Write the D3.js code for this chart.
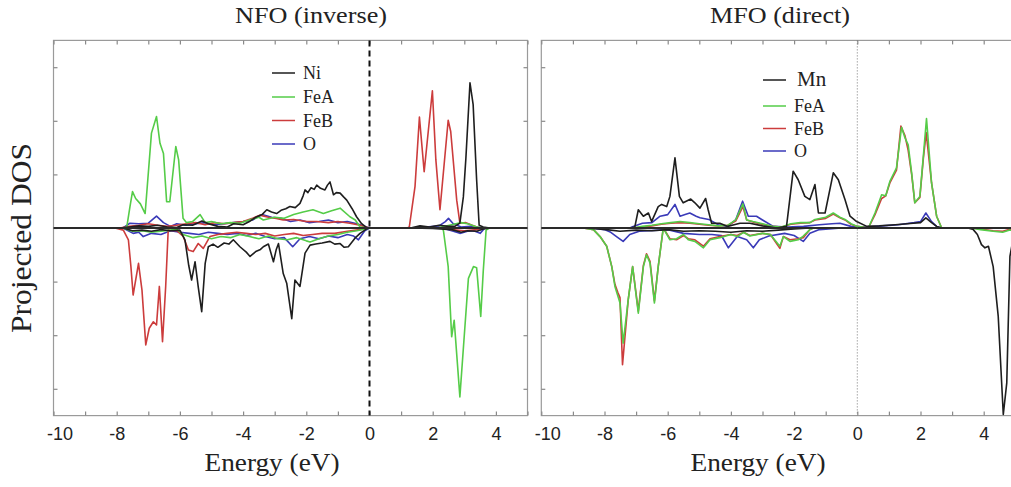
<!DOCTYPE html>
<html>
<head>
<meta charset="utf-8">
<script src="https://cdn.jsdelivr.net/npm/d3@7"></script>
<style>
  body { margin: 0; background: #fff; }
  svg { display: block; }
</style>
</head>
<body>
<div class="displayArea"></div>
<script>
// ---- data (energy in eV, projected DOS in tick units) ----
var panelTitles = ["NFO (inverse)", "MFO (direct)"]
var nfoLegend = ["Ni", "FeA", "FeB", "O"]
var mfoLegend = ["Mn", "FeA", "FeB", "O"]
var xTickValues = [-10, -9, -8, -7, -6, -5, -4, -3, -2, -1, 0, 1, 2, 3, 4, 5]
var xTickLabels = [-10, -8, -6, -4, -2, 0, 2, 4]
var yTickValues = [-3, -2, -1, 0, 1, 2, 3]

// NFO (inverse)
var nfoNiUp = [[-7.9,0],[-7.6,0.02],[-7.3,0.04],[-7.0,0.03],[-6.7,0.05],[-6.4,0.02],[-6.1,0.01],[-5.9,0.06],[-5.6,0.05],[-5.3,0.13],[-5.1,0.08],[-4.8,0.03],[-4.5,0.02],[-4.3,0.08],[-4.0,0.06],[-3.8,0.12],[-3.6,0.2],[-3.4,0.25],[-3.25,0.34],[-3.1,0.3],[-2.94,0.27],[-2.8,0.33],[-2.65,0.36],[-2.52,0.4],[-2.35,0.38],[-2.2,0.46],[-2.1,0.6],[-2.04,0.71],[-1.95,0.66],[-1.85,0.75],[-1.75,0.72],[-1.67,0.8],[-1.55,0.74],[-1.41,0.71],[-1.33,0.8],[-1.25,0.86],[-1.14,0.62],[-1.05,0.66],[-0.93,0.65],[-0.82,0.58],[-0.72,0.52],[-0.55,0.36],[-0.41,0.21],[-0.25,0.08],[-0.1,0.01],[0,0],[1.3,0],[1.6,0.04],[1.9,0.02],[2.2,0.05],[2.5,0.03],[2.7,0.03],[2.86,0.09],[2.97,0.58],[3.05,1.3],[3.18,2.71],[3.28,2.3],[3.39,0.9],[3.47,0.05],[3.6,0.02],[3.8,0]]
var nfoNiDn = [[-7.8,0],[-7.5,-0.05],[-7.2,-0.04],[-6.9,-0.06],[-6.6,-0.03],[-6.3,-0.05],[-6.0,-0.04],[-5.84,-0.22],[-5.72,-0.7],[-5.63,-0.97],[-5.52,-0.63],[-5.42,-1.1],[-5.31,-1.56],[-5.2,-0.66],[-5.1,-0.35],[-4.95,-0.3],[-4.8,-0.36],[-4.6,-0.28],[-4.45,-0.3],[-4.31,-0.22],[-4.1,-0.35],[-3.9,-0.45],[-3.78,-0.53],[-3.6,-0.44],[-3.45,-0.4],[-3.36,-0.35],[-3.2,-0.3],[-3.04,-0.63],[-2.95,-0.4],[-2.88,-0.29],[-2.73,-0.85],[-2.62,-1.03],[-2.46,-1.69],[-2.36,-0.97],[-2.2,-1.09],[-2.04,-0.47],[-1.88,-0.32],[-1.7,-0.3],[-1.5,-0.28],[-1.25,-0.25],[-1.1,-0.3],[-0.93,-0.29],[-0.8,-0.36],[-0.67,-0.35],[-0.46,-0.19],[-0.3,-0.1],[-0.1,-0.02],[0,0],[1.3,0],[2.0,-0.01],[2.6,-0.03],[2.9,-0.08],[3.1,-0.05],[3.4,-0.06],[3.6,-0.02],[3.8,0]]
var nfoFeAUp = [[-7.8,0],[-7.68,0.02],[-7.58,0.4],[-7.5,0.68],[-7.4,0.55],[-7.25,0.45],[-7.1,0.27],[-6.9,1.77],[-6.74,2.08],[-6.63,1.58],[-6.52,1.39],[-6.42,0.49],[-6.32,0.49],[-6.13,1.52],[-6.04,1.27],[-5.9,0.18],[-5.79,0.1],[-5.6,0.12],[-5.36,0.25],[-5.2,0.1],[-5.0,0.12],[-4.7,0.08],[-4.4,0.1],[-4.1,0.09],[-3.8,0.15],[-3.5,0.2],[-3.36,0.15],[-3.0,0.2],[-2.7,0.18],[-2.4,0.25],[-2.1,0.3],[-1.79,0.34],[-1.46,0.27],[-1.2,0.32],[-0.93,0.37],[-0.62,0.21],[-0.45,0.15],[-0.3,0.02],[0,0],[1.3,0],[2.2,0.01],[2.6,0.06],[2.9,0.1],[3.1,0.08],[3.4,0.02],[3.6,0]]
var nfoFeADn = [[-7.8,0],[-7.5,-0.06],[-7.2,-0.05],[-6.9,-0.08],[-6.6,-0.06],[-6.3,-0.04],[-6.1,-0.02],[-5.9,-0.12],[-5.58,-0.18],[-5.3,-0.15],[-5.0,-0.2],[-4.7,-0.16],[-4.4,-0.18],[-4.1,-0.12],[-3.8,-0.16],[-3.5,-0.2],[-3.2,-0.15],[-2.9,-0.2],[-2.6,-0.22],[-2.3,-0.18],[-2.0,-0.24],[-1.88,-0.26],[-1.6,-0.2],[-1.3,-0.15],[-1.0,-0.12],[-0.7,-0.08],[-0.4,-0.05],[0,0],[2.3,0],[2.34,-0.05],[2.49,-0.72],[2.6,-2.03],[2.68,-1.72],[2.86,-3.15],[3.0,-2.0],[3.13,-0.94],[3.29,-0.72],[3.39,-0.74],[3.52,-1.65],[3.6,-0.8],[3.69,-0.04],[3.8,0]]
var nfoFeBUp = [[-7.9,0],[-7.6,0.03],[-7.3,0.05],[-7.0,0.08],[-6.7,0.05],[-6.4,0.03],[-6.1,0.05],[-5.8,0.08],[-5.5,0.1],[-5.2,0.06],[-4.9,0.1],[-4.6,0.08],[-4.3,0.1],[-4.0,0.12],[-3.7,0.18],[-3.47,0.24],[-3.2,0.2],[-2.95,0.18],[-2.73,0.15],[-2.4,0.16],[-2.0,0.12],[-1.67,0.12],[-1.3,0.1],[-1.0,0.12],[-0.62,0.09],[-0.3,0.05],[0,0],[1.2,0],[1.26,0.02],[1.44,0.77],[1.58,2.07],[1.73,1.05],[1.99,2.56],[2.1,1.27],[2.23,0.34],[2.49,2.01],[2.57,1.8],[2.76,0.52],[2.86,0.09],[3.05,0.1],[3.25,0.05],[3.47,0]]
var nfoFeBDn = [[-8.05,0],[-7.79,-0.04],[-7.63,-0.22],[-7.55,-0.72],[-7.48,-1.25],[-7.31,-0.66],[-7.2,-1.16],[-7.08,-2.18],[-6.97,-1.87],[-6.84,-1.75],[-6.74,-1.81],[-6.65,-1.09],[-6.55,-2.12],[-6.45,-1.09],[-6.37,-0.04],[-6.1,-0.05],[-5.9,-0.15],[-5.73,-0.41],[-5.58,-0.44],[-5.42,-0.29],[-5.26,-0.38],[-5.05,-0.16],[-4.8,-0.12],[-4.5,-0.1],[-4.2,-0.08],[-3.9,-0.1],[-3.6,-0.12],[-3.3,-0.1],[-3.0,-0.15],[-2.7,-0.12],[-2.4,-0.1],[-2.1,-0.14],[-1.8,-0.12],[-1.5,-0.1],[-1.1,-0.1],[-0.7,-0.06],[-0.3,-0.03],[0,0],[2.3,0],[2.6,-0.03],[3.0,-0.05],[3.4,-0.03],[3.6,0]]
var nfoOUp = [[-7.8,0],[-7.58,0.09],[-7.3,0.08],[-7.0,0.09],[-6.74,0.22],[-6.52,0.1],[-6.3,0.03],[-6.1,0.08],[-5.8,0.05],[-5.5,0.08],[-5.2,0.1],[-4.9,0.06],[-4.6,0.08],[-4.3,0.1],[-4.0,0.12],[-3.7,0.15],[-3.4,0.25],[-3.1,0.2],[-2.8,0.18],[-2.5,0.12],[-2.2,0.15],[-1.9,0.1],[-1.6,0.12],[-1.3,0.15],[-1.0,0.1],[-0.7,0.12],[-0.4,0.08],[0,0],[1.3,0],[1.8,0.02],[2.2,0.04],[2.4,0.12],[2.5,0.18],[2.65,0.08],[2.9,0.02],[3.2,0.03],[3.6,0]]
var nfoODn = [[-7.8,0],[-7.48,-0.1],[-7.3,-0.08],[-7.16,-0.16],[-6.9,-0.1],[-6.6,-0.12],[-6.3,-0.05],[-6.0,-0.08],[-5.7,-0.1],[-5.4,-0.12],[-5.1,-0.08],[-4.8,-0.1],[-4.5,-0.12],[-4.2,-0.1],[-3.9,-0.14],[-3.6,-0.1],[-3.3,-0.16],[-3.0,-0.2],[-2.7,-0.18],[-2.43,-0.35],[-2.2,-0.2],[-1.9,-0.16],[-1.6,-0.2],[-1.3,-0.15],[-1.0,-0.18],[-0.7,-0.12],[-0.5,-0.15],[-0.35,-0.22],[-0.15,-0.05],[0,0],[2.3,0],[2.6,-0.05],[2.86,-0.1],[3.1,-0.06],[3.3,-0.05],[3.5,-0.1],[3.65,0]]

// MFO (direct)
var mfoMnUp = [[-7.2,0],[-7.04,0.02],[-6.93,0.34],[-6.77,0.22],[-6.61,0.28],[-6.51,0.12],[-6.3,0.4],[-6.19,0.44],[-6.03,0.4],[-5.93,0.59],[-5.77,1.31],[-5.63,0.59],[-5.51,0.47],[-5.27,0.54],[-5.14,0.47],[-4.98,0.37],[-4.8,0.55],[-4.72,0.34],[-4.61,0.09],[-4.35,0.09],[-4.1,0.03],[-3.9,0.06],[-3.71,0.09],[-3.4,0.09],[-3.0,0.04],[-2.55,0],[-2.24,0.03],[-2.03,1.06],[-1.87,0.9],[-1.66,0.59],[-1.5,0.53],[-1.34,0.81],[-1.23,0.28],[-1.02,0.28],[-0.76,1.03],[-0.6,0.9],[-0.39,0.53],[-0.23,0.22],[-0.02,0.12],[0.3,0.03],[0.7,0.04],[1.2,0.06],[1.77,0.09],[2.0,0.1],[2.17,0.19],[2.35,0.1],[2.51,0.03],[2.67,0]]
var mfoMnDn = [[-8.6,0],[-8.2,-0.02],[-7.93,-0.03],[-7.51,-0.06],[-7.0,-0.04],[-6.5,-0.05],[-6.0,-0.03],[-5.5,-0.06],[-5.0,-0.05],[-4.5,-0.06],[-4.0,-0.08],[-3.5,-0.05],[-3.0,-0.06],[-2.5,-0.04],[-2.0,-0.02],[-1.5,0],[3.5,0],[3.67,-0.03],[3.8,-0.12],[3.93,-0.31],[4.04,-0.37],[4.15,-0.34],[4.3,-0.72],[4.46,-1.65],[4.62,-3.48],[4.73,-2.89],[4.83,-0.53],[4.9,-0.3],[5.0,-0.2]]
var mfoFeAUp = [[-7.1,0],[-6.8,0.03],[-6.5,0.05],[-6.2,0.08],[-5.9,0.1],[-5.61,0.12],[-5.3,0.1],[-5.0,0.08],[-4.7,0.06],[-4.4,0.04],[-4.1,0.05],[-3.85,0.15],[-3.62,0.45],[-3.5,0.15],[-3.3,0.12],[-3.0,0.08],[-2.7,0.03],[-2.4,0.02],[-2.1,0.08],[-1.8,0.1],[-1.5,0.1],[-1.34,0.16],[-1.0,0.2],[-0.76,0.28],[-0.55,0.2],[-0.39,0.16],[-0.2,0.08],[0,0.03],[0.35,0],[0.56,0.28],[0.77,0.62],[0.9,0.6],[1.03,0.87],[1.24,1.12],[1.4,1.88],[1.51,1.68],[1.61,1.55],[1.72,1.03],[1.82,0.47],[1.98,0.59],[2.09,1.34],[2.19,2.04],[2.35,0.84],[2.51,0.22],[2.67,0]]
var mfoFeADn = [[-8.8,0],[-8.67,0],[-8.35,-0.03],[-8.14,-0.16],[-7.93,-0.34],[-7.77,-0.72],[-7.67,-1.09],[-7.56,-1.3],[-7.51,-1.4],[-7.41,-2.15],[-7.25,-1.34],[-7.11,-0.72],[-6.93,-1.59],[-6.77,-0.72],[-6.67,-0.5],[-6.56,-0.65],[-6.42,-1.4],[-6.3,-0.72],[-6.14,0],[-5.93,-0.22],[-5.72,-0.2],[-5.5,-0.12],[-5.35,-0.22],[-5.14,-0.25],[-4.87,-0.37],[-4.66,-0.22],[-4.35,-0.18],[-4.0,-0.12],[-3.8,-0.16],[-3.6,-0.08],[-3.4,-0.15],[-3.0,-0.1],[-2.75,-0.12],[-2.45,-0.34],[-2.34,-0.16],[-2.13,-0.25],[-1.87,-0.22],[-1.71,-0.15],[-1.5,-0.03],[-1.39,0],[3.6,0],[3.9,-0.03],[4.3,-0.06],[4.6,-0.08],[4.8,-0.04],[5.0,-0.05]]
var mfoFeBUp = [[-7.1,0],[-6.8,0.02],[-6.5,0.04],[-6.2,0.07],[-5.9,0.09],[-5.61,0.1],[-5.3,0.09],[-5.0,0.07],[-4.7,0.05],[-4.4,0.04],[-4.1,0.05],[-3.85,0.13],[-3.62,0.4],[-3.5,0.15],[-3.3,0.11],[-3.0,0.07],[-2.7,0.03],[-2.4,0.02],[-2.1,0.07],[-1.8,0.09],[-1.5,0.1],[-1.34,0.15],[-1.0,0.18],[-0.76,0.26],[-0.55,0.19],[-0.39,0.15],[-0.2,0.07],[0,0.03],[0.35,0],[0.56,0.25],[0.77,0.55],[0.9,0.6],[1.03,0.84],[1.24,1.08],[1.38,1.9],[1.51,1.72],[1.61,1.45],[1.72,1.0],[1.82,0.47],[1.98,0.57],[2.09,1.3],[2.18,1.78],[2.35,0.84],[2.51,0.22],[2.67,0]]
var mfoFeBDn = [[-8.8,0],[-8.67,0],[-8.35,-0.03],[-8.14,-0.16],[-7.93,-0.34],[-7.77,-0.72],[-7.67,-1.05],[-7.58,-1.2],[-7.51,-1.3],[-7.43,-2.55],[-7.25,-1.34],[-7.11,-0.72],[-6.93,-1.55],[-6.77,-0.7],[-6.67,-0.48],[-6.56,-0.62],[-6.42,-1.36],[-6.3,-0.72],[-6.14,0],[-5.93,-0.2],[-5.72,-0.22],[-5.5,-0.14],[-5.35,-0.2],[-5.14,-0.22],[-4.87,-0.34],[-4.66,-0.2],[-4.35,-0.16],[-4.0,-0.12],[-3.8,-0.14],[-3.6,-0.08],[-3.4,-0.14],[-3.0,-0.1],[-2.75,-0.12],[-2.45,-0.38],[-2.34,-0.16],[-2.13,-0.22],[-1.87,-0.2],[-1.71,-0.18],[-1.5,-0.03],[-1.39,0],[3.6,0],[3.9,-0.02],[4.3,-0.05],[4.6,-0.06],[4.8,-0.03],[5.0,-0.04]]
var mfoOUp = [[-7.2,0],[-7.09,0.03],[-6.8,0.09],[-6.5,0.1],[-6.24,0.22],[-6.0,0.25],[-5.77,0.44],[-5.61,0.22],[-5.45,0.25],[-5.3,0.28],[-5.1,0.22],[-4.98,0.19],[-4.7,0.16],[-4.4,0.06],[-4.1,0.03],[-3.85,0.15],[-3.63,0.5],[-3.45,0.22],[-3.19,0.22],[-3.0,0.15],[-2.66,0.03],[-2.2,0.02],[-1.7,0.03],[-1.2,0.06],[-0.8,0.08],[-0.55,0.09],[-0.2,0.03],[0.3,0.02],[0.8,0.04],[1.3,0.06],[1.8,0.1],[2.0,0.12],[2.17,0.28],[2.35,0.12],[2.51,0.03],[2.67,0]]
var mfoODn = [[-8.4,0],[-8.0,-0.03],[-7.8,-0.08],[-7.62,-0.16],[-7.41,-0.25],[-7.2,-0.12],[-6.9,-0.06],[-6.0,-0.03],[-5.5,-0.1],[-5.0,-0.12],[-4.6,-0.12],[-4.3,-0.14],[-4.08,-0.37],[-3.8,-0.16],[-3.5,-0.22],[-3.29,-0.37],[-3.1,-0.22],[-2.8,-0.15],[-2.3,-0.1],[-2.0,-0.14],[-1.71,-0.25],[-1.5,-0.1],[-1.2,-0.03],[-0.5,0]]

// ---- layout ----
var W = 1011, H = 487
var colors = { black: "#1e1e1e", green: "#55cc48", red: "#cc3c3c", blue: "#3a3ab8" }
var serif = "'Liberation Serif', 'Times New Roman', serif"
var sans = "'Liberation Sans', Arial, sans-serif"

var panels = [
  { left: 53.5, title: panelTitles[0], titleX: 311, titleW: 152, labelX: 272, legend: nfoLegend,
    legX: 272, legY: [73, 97, 120.5, 144], legSize: [18, 18, 18, 18], zeroLine: "dashed",
    // drawn order: O, FeB, FeA, Ni
    curves: [[nfoODn, "blue"], [nfoOUp, "blue"], [nfoFeBDn, "red"], [nfoFeBUp, "red"],
             [nfoFeADn, "green"], [nfoFeAUp, "green"], [nfoNiDn, "black"], [nfoNiUp, "black"]] },
  { left: 541.3, title: panelTitles[1], titleX: 780, titleW: 140, labelX: 758, legend: mfoLegend,
    legX: 763, legY: [80, 106, 128.5, 151], legSize: [21, 18, 18, 18], zeroLine: "dotted",
    curves: [[mfoODn, "blue"], [mfoOUp, "blue"], [mfoFeBDn, "red"], [mfoFeBUp, "red"],
             [mfoFeADn, "green"], [mfoFeAUp, "green"], [mfoMnDn, "black"], [mfoMnUp, "black"]] }
]
var legendColors = ["black", "green", "red", "blue"]
var plotW = 474, plotTop = 40.4, plotBottom = 415.6

var svg = d3.select(".displayArea").append("svg")
    .attr("width", W)
    .attr("height", H)

var yScale = d3.scaleLinear().domain([-3.5, 3.5]).range([plotBottom, plotTop])

svg.append("text") // y axis title
    .attr("transform", "translate(31," + 238 + ") rotate(-90)")
    .attr("text-anchor", "middle")
    .attr("font-family", serif)
    .attr("font-size", 29)
    .attr("textLength", 190)
    .attr("lengthAdjust", "spacingAndGlyphs")
    .attr("fill", "#222")
    .text("Projected DOS")

panels.forEach(function(p){
    var xScale = d3.scaleLinear().domain([-10, 5]).range([p.left, p.left + plotW])
    var g = svg.append("g")

    // frame
    g.append("rect")
        .attr("x", p.left).attr("y", plotTop)
        .attr("width", plotW).attr("height", plotBottom - plotTop)
        .attr("fill", "none").attr("stroke", "#9a9a9a").attr("stroke-width", 1.2)

    // inward ticks on all four sides
    var xb = g.append("g").attr("transform", "translate(0," + plotBottom + ")")
        .call(d3.axisBottom(xScale).tickValues(xTickValues).tickSize(-4).tickPadding(0)
            .tickFormat(function(d){ return xTickLabels.indexOf(d) >= 0 ? String(d) : "" }))
    var xt = g.append("g").attr("transform", "translate(0," + plotTop + ")")
        .call(d3.axisTop(xScale).tickValues(xTickValues).tickSize(-4).tickFormat(""))
    var yl = g.append("g").attr("transform", "translate(" + p.left + ",0)")
        .call(d3.axisLeft(yScale).tickValues(yTickValues).tickSize(-4).tickFormat(""))
    var yr = g.append("g").attr("transform", "translate(" + (p.left + plotW) + ",0)")
        .call(d3.axisRight(yScale).tickValues(yTickValues).tickSize(-4).tickFormat(""))
    ;[xb, xt, yl, yr].forEach(function(a){
        a.select(".domain").remove()
        a.selectAll(".tick line").attr("stroke", "#8a8a8a").attr("stroke-width", 1.2)
    })
    xb.selectAll(".tick text")
        .attr("y", 12)
        .attr("dx", function(d){ return d === -10 ? 6 : 0 })
        .attr("font-family", sans)
        .attr("font-size", 18)
        .attr("fill", "#222")

    // curves
    var line = d3.line()
        .x(function(d){ return xScale(d[0]) })
        .y(function(d){ return yScale(d[1]) })
    p.curves.forEach(function(c){
        g.append("path")
            .datum(c[0])
            .attr("d", line)
            .attr("fill", "none")
            .attr("stroke", colors[c[1]])
            .attr("stroke-width", 1.6)
            .attr("stroke-linejoin", "round")
    })

    // zero lines
    g.append("line")
        .attr("x1", p.left).attr("x2", p.left + plotW)
        .attr("y1", yScale(0)).attr("y2", yScale(0))
        .attr("stroke", "#2a2a2a").attr("stroke-width", 1.8)
    if (p.zeroLine === "dashed") {
        g.append("line")
            .attr("x1", xScale(0)).attr("x2", xScale(0))
            .attr("y1", plotTop).attr("y2", plotBottom)
            .attr("stroke", "#111").attr("stroke-width", 2)
            .attr("stroke-dasharray", "6,4")
    } else {
        g.append("line")
            .attr("x1", xScale(0)).attr("x2", xScale(0))
            .attr("y1", plotTop).attr("y2", plotBottom)
            .attr("stroke", "#777").attr("stroke-width", 1)
            .attr("stroke-dasharray", "1,2")
    }

    // legend
    p.legend.forEach(function(name, i){
        g.append("line")
            .attr("x1", p.legX).attr("x2", p.legX + 23)
            .attr("y1", p.legY[i]).attr("y2", p.legY[i])
            .attr("stroke", colors[legendColors[i]]).attr("stroke-width", 1.5)
        g.append("text")
            .attr("x", p.legX + 31 + (i === 0 && p.legSize[0] > 18 ? 3 : 0))
            .attr("y", p.legY[i] + 6)
            .attr("font-family", serif)
            .attr("font-size", p.legSize[i])
            .attr("fill", "#222")
            .text(name)
    })

    // titles
    g.append("text")
        .attr("x", p.titleX).attr("y", 23)
        .attr("text-anchor", "middle")
        .attr("font-family", serif).attr("font-size", 23)
        .attr("textLength", p.titleW).attr("lengthAdjust", "spacingAndGlyphs")
        .attr("fill", "#222")
        .text(p.title)
    g.append("text")
        .attr("x", p.labelX).attr("y", 471)
        .attr("text-anchor", "middle")
        .attr("font-family", serif).attr("font-size", 25)
        .attr("textLength", 135).attr("lengthAdjust", "spacingAndGlyphs")
        .attr("fill", "#222")
        .text("Energy (eV)")
})
</script>
</body>
</html>
